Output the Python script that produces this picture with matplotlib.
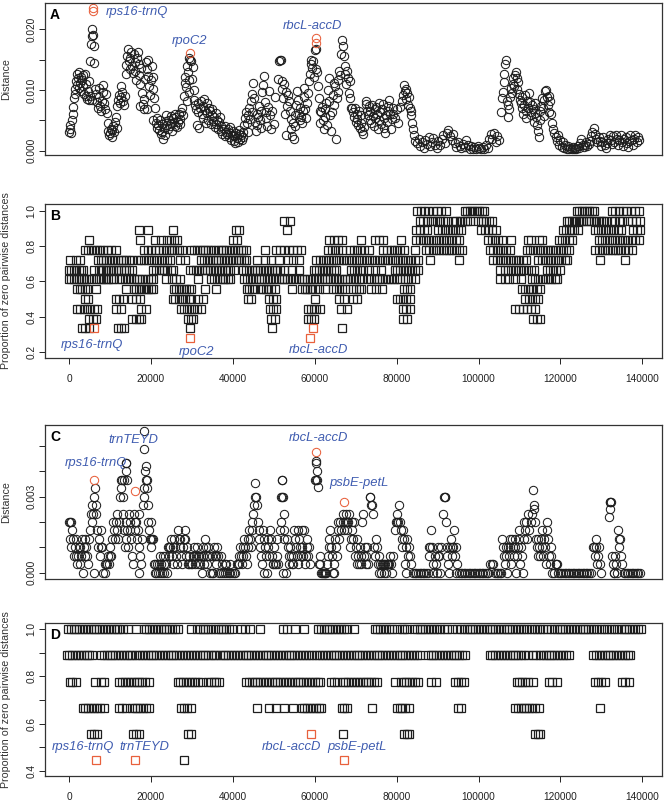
import matplotlib.pyplot as plt
from matplotlib.ticker import FixedLocator, FixedFormatter

plt.rcParams['font.family'] = ['Liberation Sans', 'DejaVu Sans']

# ---- panel A: distance per window, (position in kb, distance x 1e-3)
dist_a = [
    (0.0, 3.0), (0.2, 3.5), (0.3, 4.3), (0.5, 2.9), (0.7, 5.0), (0.9, 6.0), (1.0, 7.2), (1.2, 8.6),
    (1.4, 9.3), (1.5, 10.2), (1.7, 11.5), (1.9, 12.6), (2.0, 10.8), (2.2, 11.9), (2.4, 12.9), (2.5, 10.4),
    (2.7, 11.2), (2.9, 12.2), (3.0, 9.8), (3.2, 11.7), (3.4, 12.4), (3.5, 10.6), (3.7, 9.4), (3.9, 12.7),
    (4.1, 11.0), (4.2, 9.0), (4.4, 8.5), (4.6, 9.9), (4.8, 11.4), (5.0, 8.3),
    (5.1, 14.8), (5.3, 17.5), (5.5, 18.9), (5.6, 20.1), (5.8, 19.0), (6.0, 17.2), (6.2, 14.4), (6.4, 10.2),
    (5.2, 9.0), (5.5, 8.4), (6.6, 9.3), (6.8, 8.0), (7.0, 7.1), (7.2, 8.8), (7.4, 10.4), (7.6, 7.4),
    (7.8, 6.6), (8.0, 8.1), (8.2, 9.6), (8.4, 10.8), (8.6, 7.8), (8.8, 6.9), (9.0, 9.4),
    (9.2, 6.2), (9.4, 4.6), (9.6, 3.2), (9.8, 2.5), (10.0, 2.9), (10.2, 3.6), (10.4, 2.3), (10.6, 3.4),
    (10.8, 4.0), (11.0, 3.0), (11.2, 4.8), (11.4, 5.5), (11.6, 3.8),
    (11.8, 7.3), (12.0, 8.4), (12.2, 9.2), (12.4, 7.9), (12.6, 8.8), (12.8, 10.6), (13.0, 9.6), (13.2, 8.1),
    (13.4, 7.5), (13.6, 9.0),
    (13.8, 12.6), (14.0, 14.1), (14.2, 15.6), (14.4, 16.8), (14.6, 14.8), (14.8, 13.4), (15.0, 15.2),
    (15.2, 16.2), (15.4, 14.0), (15.6, 12.8), (15.8, 15.9), (16.0, 14.6), (16.2, 13.2), (16.4, 11.7),
    (16.6, 15.3), (16.8, 16.3), (17.0, 14.2), (17.2, 12.4), (17.4, 10.9), (17.6, 13.6), (17.8, 9.5),
    (18.0, 7.7), (18.2, 6.8), (18.4, 8.5), (18.6, 11.8), (18.8, 14.6), (19.0, 13.5), (19.2, 15.0),
    (19.4, 12.3), (19.6, 10.6), (19.8, 9.2), (20.0, 11.6), (20.2, 13.9), (20.4, 12.2), (20.6, 10.1),
    (20.8, 8.7), (21.0, 7.0), (20.4, 5.0), (19.0, 6.9), (17.4, 7.3),
    (21.2, 4.6), (21.4, 3.8), (21.6, 5.4), (21.8, 4.2), (22.0, 3.4), (22.2, 5.0), (22.4, 2.7), (22.6, 4.4),
    (22.8, 3.1), (23.0, 2.0), (23.2, 3.8), (23.4, 2.6), (23.6, 4.9), (23.8, 5.8), (24.0, 4.3), (24.2, 3.5),
    (24.4, 5.1), (24.6, 4.0), (24.8, 5.7), (25.0, 4.6), (25.2, 3.2), (25.4, 5.3), (25.6, 4.8), (25.8, 6.1),
    (26.0, 4.1), (26.2, 5.5), (26.4, 3.9), (26.6, 4.7), (26.8, 6.0), (27.0, 5.2), (27.2, 4.4), (27.4, 6.4),
    (27.6, 7.1), (27.8, 5.9),
    (28.0, 9.0), (28.2, 11.2), (28.4, 12.2), (28.6, 10.5), (28.8, 14.0), (29.0, 12.9), (29.2, 11.6),
    (29.4, 15.3), (29.6, 15.0), (29.8, 14.7), (30.0, 11.8), (30.2, 13.8), (30.4, 10.0), (30.6, 8.4),
    (28.9, 8.2), (29.3, 9.6),
    (30.8, 7.6), (31.0, 6.9), (31.2, 4.2), (31.4, 7.9), (31.6, 6.4), (31.8, 3.8), (32.0, 7.1), (32.2, 8.2),
    (32.4, 6.0), (32.6, 7.4), (32.8, 5.4), (33.0, 8.5), (33.2, 6.7), (33.4, 4.6), (33.6, 7.8), (33.8, 6.2),
    (34.0, 5.0), (34.2, 7.0), (34.4, 6.5), (34.6, 4.4), (34.8, 5.8), (35.0, 6.9), (35.2, 4.9), (35.4, 5.5),
    (35.6, 3.9), (35.8, 6.2), (36.0, 4.4), (36.2, 5.1), (36.4, 3.6), (36.6, 4.7), (36.8, 5.6), (37.0, 3.3),
    (37.2, 4.1), (37.4, 2.8),
    (37.8, 3.6), (38.0, 2.4), (38.2, 4.0), (38.4, 3.1), (38.6, 2.7), (38.8, 3.5), (39.0, 2.2), (39.2, 3.9),
    (39.4, 2.9), (39.6, 1.8), (39.8, 2.6), (40.0, 3.3), (40.2, 1.6), (40.4, 2.4), (40.6, 1.2), (40.8, 2.9),
    (41.0, 2.1), (41.2, 1.5), (41.4, 2.8), (41.6, 3.4), (41.8, 2.0), (42.0, 2.6), (42.2, 1.7), (42.4, 3.0),
    (42.6, 2.3), (42.8, 4.2),
    (43.0, 5.3), (43.2, 6.4), (43.4, 4.6), (43.6, 3.0), (43.8, 5.8), (44.0, 7.0), (44.2, 5.2), (44.4, 8.1),
    (44.6, 6.3), (44.8, 9.4), (45.0, 11.2), (45.2, 8.6), (45.4, 4.8), (45.6, 3.2), (45.8, 6.1), (46.0, 4.2),
    (46.2, 5.6), (46.4, 7.4), (46.6, 5.0), (46.8, 3.8), (47.0, 6.6), (47.2, 9.6), (47.4, 10.8), (47.6, 12.3),
    (47.8, 8.0), (48.0, 6.4), (48.2, 5.4), (48.4, 4.0), (48.6, 7.2), (48.8, 9.8), (49.0, 5.8), (49.2, 3.5),
    (51.0, 11.8), (51.3, 14.8), (51.5, 15.0), (51.7, 14.9), (51.9, 11.5), (52.1, 10.2), (52.3, 8.6),
    (52.5, 11.0), (52.7, 6.0), (52.9, 2.6), (53.1, 9.7), (53.3, 7.3), (49.6, 6.6), (50.0, 4.4), (50.4, 8.8),
    (53.5, 9.1), (53.7, 8.2), (53.9, 6.5), (54.1, 5.2), (54.3, 3.5), (54.5, 2.4), (54.7, 4.5), (54.9, 2.0),
    (55.1, 4.0), (55.3, 5.8), (55.5, 7.6), (55.7, 9.8), (55.9, 8.4), (56.1, 6.1), (56.3, 5.0), (56.5, 7.0),
    (56.7, 5.6), (56.9, 4.6), (57.1, 6.6), (57.3, 8.8), (57.5, 10.4), (57.7, 6.9), (57.9, 5.4), (58.1, 7.8),
    (58.3, 9.5),
    (58.6, 11.5), (58.8, 12.6), (59.0, 14.2), (59.2, 15.0), (59.4, 13.6), (59.6, 14.7), (59.8, 12.1),
    (60.0, 16.6), (60.2, 16.8), (60.4, 13.4), (60.6, 13.0), (60.8, 10.6), (61.0, 8.6), (61.2, 6.6), (61.4, 4.5),
    (61.6, 6.3), (61.8, 7.2), (62.0, 5.0), (62.2, 3.6), (62.4, 6.8), (62.6, 5.5), (62.8, 7.9), (63.0, 4.3),
    (63.2, 10.0), (63.4, 12.0), (63.6, 8.2), (63.8, 5.8), (64.0, 3.2), (64.2, 6.4), (64.4, 9.2), (64.6, 11.2),
    (64.8, 7.6), (65.0, 10.6), (65.2, 2.0), (65.4, 8.6), (65.6, 11.6), (65.8, 9.6), (66.0, 13.2), (66.2, 12.4),
    (66.5, 16.0), (66.7, 18.2), (66.9, 17.2), (67.1, 15.6), (67.3, 14.0), (67.5, 12.6), (67.7, 11.0),
    (67.9, 13.2), (68.1, 12.0), (68.3, 9.5), (68.5, 11.4), (68.7, 8.6), (68.9, 7.0),
    (69.2, 7.1), (69.4, 6.3), (69.6, 5.5), (69.8, 7.0), (70.0, 4.8), (70.2, 6.1), (70.4, 5.2), (70.6, 4.3),
    (70.8, 6.6), (71.0, 3.8), (71.2, 5.8), (71.4, 4.6), (71.6, 3.3), (71.8, 2.7), (72.0, 3.9), (72.4, 7.7),
    (72.6, 8.1), (72.8, 6.6), (73.0, 5.9), (73.2, 7.4), (73.4, 5.1), (73.6, 6.5), (73.8, 4.5), (74.0, 7.6),
    (74.2, 5.7), (74.4, 4.0), (74.6, 6.9), (74.8, 5.3), (75.0, 7.2), (75.2, 6.0), (75.4, 3.6), (75.6, 5.0),
    (75.8, 7.9), (76.0, 6.3), (76.2, 4.4), (76.4, 6.8), (76.6, 7.7), (76.8, 5.4), (77.0, 3.8), (77.2, 2.9),
    (77.4, 5.9), (77.6, 4.8), (77.8, 6.5), (78.0, 7.4), (78.2, 8.3), (78.4, 6.1), (78.6, 3.6), (78.8, 5.2),
    (79.0, 7.0), (79.2, 6.0), (79.6, 5.4), (80.0, 6.8), (80.4, 4.6), (80.8, 7.2),
    (81.4, 8.1), (81.6, 9.2), (81.8, 10.8), (82.0, 9.8), (82.2, 10.1), (82.4, 8.5), (82.6, 9.5), (82.8, 7.6),
    (83.0, 8.8), (83.2, 7.0), (83.4, 5.8), (83.6, 6.6), (83.8, 4.6), (84.0, 3.6), (84.2, 2.6), (84.4, 1.6),
    (85.0, 1.2), (85.4, 2.0), (85.8, 0.8), (86.2, 1.5), (86.6, 0.5), (87.0, 1.8), (87.4, 1.1), (87.8, 2.2),
    (88.2, 0.7), (88.6, 1.4), (89.0, 2.1), (89.4, 1.0), (89.8, 0.4), (90.2, 1.6), (90.6, 0.9), (91.0, 1.9),
    (91.4, 2.6), (91.8, 1.3), (92.2, 2.9), (92.6, 3.4), (93.0, 2.4), (93.4, 1.7), (93.8, 2.8), (94.2, 1.2),
    (94.6, 0.6), (95.0, 1.5), (95.4, 0.8), (95.8, 0.4), (96.2, 1.1), (96.6, 0.6), (97.0, 1.8), (97.4, 0.9),
    (97.8, 0.3), (98.2, 0.7), (98.6, 0.2), (99.0, 0.6), (99.4, 0.3), (99.8, 0.8), (100.2, 0.4), (100.6, 0.2),
    (101.0, 0.6), (101.4, 0.3), (101.8, 1.0), (102.2, 0.5), (102.6, 1.9), (103.0, 2.7), (103.4, 2.0),
    (103.8, 2.9), (104.2, 1.4), (104.6, 2.4), (105.0, 1.7),
    (105.5, 6.4), (105.7, 8.6), (105.9, 9.6), (106.1, 11.3), (106.3, 12.6), (106.5, 14.3), (106.7, 14.9),
    (106.9, 8.2), (107.1, 7.6),
    (107.3, 5.5), (107.5, 6.8), (107.7, 8.9), (107.9, 10.3), (108.1, 9.5), (108.3, 11.0), (108.5, 11.9),
    (108.7, 10.7), (108.9, 12.4), (109.1, 13.0), (109.3, 12.0), (109.5, 10.2), (109.7, 11.3), (109.9, 9.4),
    (110.1, 8.4),
    (110.3, 7.9), (110.5, 7.0), (110.7, 8.8), (110.9, 6.1), (111.1, 7.5), (111.3, 9.1), (111.5, 6.6),
    (111.7, 5.4), (111.9, 8.2), (112.1, 7.1), (112.3, 9.5), (112.5, 8.0), (112.7, 6.4), (112.9, 5.8),
    (113.1, 7.6), (113.3, 6.8), (113.5, 4.8), (113.7, 6.2), (113.9, 7.9), (114.1, 5.5), (114.3, 4.3),
    (114.5, 3.2), (114.7, 2.3), (114.9, 5.0), (115.1, 6.6), (115.3, 7.4), (115.5, 8.6), (115.7, 7.0),
    (115.9, 5.7), (116.1, 8.3), (116.3, 9.8), (116.5, 10.0), (116.7, 8.9), (116.9, 7.6), (117.1, 6.3),
    (117.3, 9.0), (117.5, 8.2), (117.7, 6.0), (117.9, 4.5),
    (118.2, 3.6), (118.5, 2.9), (118.8, 2.2), (119.1, 1.6), (119.4, 2.6), (119.7, 1.0), (120.0, 1.8),
    (120.3, 0.6), (120.6, 1.4), (120.9, 0.4), (121.2, 0.9), (121.5, 0.3), (121.8, 0.7), (122.1, 0.2),
    (122.4, 0.5), (122.7, 0.3), (123.0, 0.6), (123.3, 0.2), (123.6, 0.5), (123.9, 0.3), (124.2, 0.8),
    (124.5, 0.4), (124.8, 1.2), (125.1, 1.9), (125.4, 1.0), (125.7, 0.6), (126.0, 0.9), (126.3, 1.5),
    (126.6, 0.7), (126.9, 1.1), (127.2, 1.6), (127.5, 2.4), (127.8, 3.0), (128.1, 3.8), (128.4, 2.7),
    (128.7, 2.0), (129.0, 1.4), (129.3, 2.3), (129.6, 1.6), (129.9, 0.8), (130.2, 1.5), (130.5, 2.2),
    (130.8, 1.0), (131.1, 0.4), (131.4, 1.3), (131.7, 2.0), (132.0, 2.6), (132.3, 1.8), (132.6, 1.1),
    (132.9, 2.4), (133.2, 1.5), (133.5, 2.6), (133.8, 1.9), (134.1, 0.9), (134.4, 1.7), (134.7, 2.5),
    (135.0, 1.4), (135.3, 0.8), (135.6, 1.9), (135.9, 2.3), (136.2, 1.3), (136.5, 0.6), (136.8, 1.6),
    (137.1, 2.5), (137.4, 1.8), (137.7, 1.0), (138.0, 2.0), (138.3, 2.6), (138.6, 1.5), (138.9, 2.2),
    (139.2, 1.7),
]
red_a = [(5.9, 23.0), (5.9, 23.5), (29.6, 16.1), (60.4, 17.8), (60.4, 18.5)]

# ---- panel B: proportion of zero pairwise distances, k/18, positions in kb
b_18 = [85.0, 85.9, 86.8, 87.6, 88.9, 89.8, 90.9, 92.0, 96.6, 97.2, 97.8, 98.4, 99.0, 99.6, 100.2,
        100.8, 101.3, 124.0, 124.6, 125.2, 125.8, 126.4, 127.0, 127.6, 128.1, 132.5, 133.4, 134.3,
        135.2, 136.1, 137.3, 138.3, 139.3]
b_17 = [52.6, 53.9, 85.6, 86.5, 87.4, 88.3, 89.0, 89.8, 90.6, 91.4, 92.3, 93.8, 94.6, 95.4, 96.0,
        96.6, 97.2, 97.8, 99.9, 100.6, 101.2, 101.8, 102.6, 103.4, 121.5, 122.1, 122.7, 123.3, 123.9,
        124.5, 125.1, 125.6, 126.3, 126.9, 127.5, 128.1, 128.7, 129.3, 129.9, 130.5, 131.2, 132.5,
        133.4, 134.2, 135.0, 136.5, 137.5, 138.5, 139.4]
b_16 = [17.2, 19.2, 25.5, 40.7, 41.4, 53.2, 84.8, 85.7, 86.6, 87.4, 90.2, 91.0, 91.8, 92.6, 93.4,
        94.2, 95.0, 95.6, 100.7, 101.5, 102.3, 103.2, 104.2, 120.6, 121.3, 122.0, 122.7, 123.4, 124.2,
        128.4, 129.2, 130.0, 130.8, 131.6, 132.4, 133.2, 134.0, 134.9, 137.8, 138.6, 139.4]
b_15 = [5.0, 17.4, 21.0, 22.5, 24.0, 25.0, 25.7, 26.4, 40.0, 41.1, 63.6, 64.6, 65.6, 66.6, 71.2,
        74.8, 75.6, 76.6, 81.0, 84.8, 85.6, 86.4, 87.2, 88.0, 88.8, 89.6, 90.4, 91.2, 92.0, 92.8, 93.6,
        94.4, 95.3, 102.4, 103.2, 104.0, 104.8, 105.7, 107.9, 112.0, 112.8, 114.8, 115.6, 119.6, 120.4,
        121.2, 122.0, 122.8, 129.4, 130.2, 131.0, 131.8, 132.6, 133.4, 134.2, 135.0, 135.8, 136.6,
        137.4, 138.2, 139.2]
b_14 = [4.0, 4.7, 5.4, 6.1, 6.8, 7.5, 8.3, 9.2, 10.2, 11.4, 18.4, 19.2, 20.0, 21.0, 22.0, 23.0,
        23.8, 24.5, 25.1, 25.7, 26.3, 26.9, 27.5, 29.8, 30.5, 31.2, 31.9, 32.6, 33.3, 34.0, 34.7, 35.3,
        36.3, 37.0, 37.7, 38.4, 39.1, 39.8, 40.5, 41.2, 41.9, 42.6, 43.3, 47.9, 50.6, 51.6, 52.6, 53.6,
        54.6, 55.6, 56.7, 63.3, 64.1, 64.9, 65.7, 66.6, 68.6, 69.6, 70.3, 71.0, 72.0, 73.2, 76.6, 77.6,
        78.6, 79.4, 80.1, 80.8, 81.7, 84.6, 87.2, 88.0, 88.8, 89.6, 90.4, 91.2, 92.0, 92.8, 93.6, 94.4,
        95.2, 96.0, 102.8, 103.6, 104.4, 105.2, 106.0, 106.8, 107.6, 111.8, 112.6, 113.4, 114.2, 115.0,
        115.8, 116.6, 117.4, 118.2, 119.0, 119.8, 120.6, 121.4, 122.0, 128.5, 129.3, 130.1, 130.9,
        131.7, 132.5, 133.3, 134.1, 134.9, 135.7, 136.5, 137.4]
b_13 = [0.3, 1.6, 2.8, 7.0, 7.7, 8.4, 9.1, 9.8, 10.5, 11.2, 11.9, 12.6, 13.3, 14.0, 14.7, 15.4,
        16.8, 17.6, 18.4, 19.2, 20.0, 20.8, 21.6, 22.4, 23.2, 24.0, 24.6, 27.0, 28.4, 32.3, 33.0, 33.7,
        34.4, 35.1, 35.8, 36.5, 37.2, 37.9, 38.6, 39.3, 40.0, 40.7, 41.4, 42.1, 42.8, 43.3, 45.8, 47.9,
        49.4, 51.2, 53.5, 54.8, 56.2, 60.4, 61.2, 62.0, 62.8, 63.6, 64.4, 65.2, 66.0, 66.8, 67.6, 68.4,
        69.2, 70.0, 70.8, 71.6, 72.4, 73.2, 74.0, 74.8, 75.6, 76.4, 77.2, 78.0, 78.8, 79.6, 80.4, 81.2,
        82.0, 82.8, 83.6, 84.4, 85.2, 88.2, 95.2, 103.6, 104.4, 105.2, 106.0, 106.8, 107.6, 108.4,
        109.2, 110.0, 110.8, 111.6, 114.6, 115.4, 116.2, 117.0, 117.8, 118.6, 119.4, 120.2, 121.0,
        121.6, 129.6, 135.8]
b_12 = [0.0, 0.6, 1.2, 1.8, 2.4, 3.0, 3.5, 6.2, 7.2, 7.8, 8.4, 9.0, 9.6, 10.2, 10.8, 11.4, 12.0,
        12.8, 13.4, 14.0, 14.6, 15.3, 20.5, 21.2, 21.9, 22.6, 23.3, 24.0, 24.8, 25.5, 29.6, 30.3, 31.0,
        31.7, 32.4, 33.1, 33.8, 34.5, 35.2, 35.9, 36.6, 37.3, 38.0, 38.7, 39.4, 40.2, 42.5, 43.2, 43.9,
        44.6, 45.3, 46.0, 46.7, 47.4, 48.1, 48.8, 49.5, 50.2, 50.9, 51.6, 52.4, 54.5, 56.2, 59.7, 60.4,
        61.1, 61.8, 62.5, 63.2, 63.9, 64.6, 65.3, 68.9, 69.6, 70.3, 71.0, 71.8, 73.2, 74.6, 76.2, 79.5,
        80.2, 80.9, 81.6, 82.3, 83.0, 83.7, 84.4, 85.2, 105.2, 106.4, 107.2, 108.0, 108.8, 109.6, 110.4,
        111.2, 112.0, 112.8, 113.6, 116.6, 117.4, 118.2, 119.0, 119.8]
b_11 = [0.0, 0.6, 1.2, 1.8, 2.4, 3.0, 3.6, 4.2, 4.8, 5.4, 6.6, 7.2, 7.8, 8.4, 9.0, 9.6, 10.2, 10.8,
        12.3, 13.0, 13.7, 14.4, 15.1, 15.8, 16.5, 17.2, 17.9, 18.6, 19.3, 20.0, 20.6, 23.7, 25.1, 26.2,
        27.0, 31.4, 34.7, 35.4, 36.1, 36.8, 37.5, 38.2, 38.9, 39.4, 42.8, 43.5, 44.2, 44.9, 45.6, 46.3,
        47.0, 47.7, 48.4, 49.1, 49.8, 50.5, 51.2, 51.9, 52.6, 53.3, 54.0, 54.7, 55.4, 56.1, 56.8, 57.5,
        58.2, 58.9, 59.6, 60.3, 61.0, 61.7, 62.4, 63.1, 63.8, 64.5, 65.2, 65.9, 66.6, 67.3, 68.0, 68.7,
        69.4, 70.1, 70.8, 71.5, 73.0, 73.7, 74.4, 75.1, 75.8, 76.5, 77.2, 77.9, 78.6, 79.3, 80.0, 80.7,
        82.0, 82.8, 83.6, 84.6, 105.3, 106.4, 107.5, 109.0, 110.4, 113.0, 113.8, 114.6, 115.4, 116.2,
        117.0, 117.8, 118.6, 119.1]
b_10 = [2.0, 2.6, 3.2, 3.8, 4.5, 6.5, 14.0, 15.8, 16.4, 17.0, 17.6, 18.2, 18.8, 19.4, 20.0, 20.6,
        25.6, 26.2, 26.8, 27.4, 28.0, 28.6, 29.2, 29.8, 33.3, 35.8, 43.4, 44.0, 44.6, 45.2, 46.8, 47.4,
        48.0, 48.6, 49.2, 50.4, 54.4, 57.0, 57.6, 58.2, 58.8, 59.4, 60.0, 61.0, 62.4, 64.5, 65.2, 66.0,
        66.6, 67.4, 69.4, 70.0, 70.8, 71.4, 73.8, 75.0, 76.4, 81.8, 82.6, 83.2, 110.6, 111.3, 112.0,
        112.7, 113.4, 114.2, 115.0]
b_9 = [3.8, 4.6, 11.5, 12.3, 13.3, 15.5, 16.3, 17.3, 25.3, 26.0, 26.8, 27.6, 28.4, 29.2, 29.9, 31.6,
       32.6, 43.6, 44.5, 48.9, 49.8, 50.6, 60.1, 66.0, 67.2, 69.3, 70.4, 80.0, 80.8, 81.6, 82.4, 83.2,
       111.4, 112.2, 113.0, 113.8, 114.5]
b_8 = [2.0, 2.8, 3.6, 4.4, 5.2, 6.0, 6.8, 11.4, 12.6, 17.6, 18.8, 27.3, 28.1, 28.9, 29.7, 30.5, 31.3,
       32.2, 49.0, 49.8, 50.6, 58.3, 59.0, 59.7, 60.4, 61.2, 66.5, 67.8, 81.5, 82.4, 83.2, 108.8, 109.8,
       110.8, 111.8, 112.8, 113.8]
b_7 = [5.0, 5.8, 6.6, 15.5, 16.3, 17.0, 17.6, 29.0, 29.8, 30.3, 49.4, 50.2, 58.3, 59.0, 59.8, 81.5,
       82.6, 113.4, 114.2, 114.9]
b_6 = [3.2, 4.0, 4.9, 12.0, 12.8, 13.5, 29.6, 49.6, 66.6]
red_b = [(6.2, 6), (29.6, 5), (59.5, 6), (58.9, 5)]

# ---- panel C: distance per window, (position in kb, distance x 1e-3)
dist_c = [
    (0.0, 2.0), (0.2, 2.0), (0.4, 2.0), (0.3, 1.33), (0.5, 1.0), (0.8, 1.67), (1.0, 1.33), (1.2, 0.67),
    (1.4, 1.0), (1.6, 0.67), (1.8, 1.33), (2.0, 0.33), (2.2, 0.67), (2.4, 1.0), (2.6, 0.33), (2.8, 1.0),
    (3.0, 0.67), (3.2, 1.33), (3.4, 0.0), (3.6, 1.0), (3.8, 0.67), (4.0, 1.33), (4.2, 1.0), (4.4, 0.67),
    (4.6, 0.33), (4.9, 1.33), (5.1, 1.67), (5.3, 2.33), (5.5, 2.67), (5.7, 2.0), (5.9, 2.33), (6.1, 3.0),
    (6.3, 3.33), (6.5, 2.67), (6.7, 2.33), (6.9, 1.67), (7.1, 1.0), (6.0, 0.0), (7.3, 1.33), (7.5, 0.67),
    (7.7, 1.0), (7.9, 1.67), (8.1, 1.0), (8.3, 0.0), (8.7, 0.0), (8.9, 0.33), (9.1, 0.33), (9.3, 0.33),
    (9.5, 0.67), (9.7, 0.33), (9.9, 0.67), (10.1, 1.0), (10.3, 0.67), (10.6, 1.33), (10.8, 2.0),
    (11.0, 1.67), (11.2, 1.33), (11.4, 2.0), (11.6, 1.67), (11.8, 2.33), (12.0, 1.33), (12.2, 2.0),
    (12.4, 3.0), (12.6, 3.67), (12.8, 3.33), (13.0, 3.67), (13.3, 3.0), (13.5, 3.67), (13.8, 4.0),
    (13.9, 4.33), (14.0, 4.33), (14.2, 3.67), (13.2, 2.33), (13.4, 1.67), (13.6, 1.0), (13.8, 1.33),
    (14.0, 2.0), (14.2, 1.67), (14.4, 1.0), (14.6, 2.33), (14.8, 2.0), (15.0, 1.67), (15.2, 1.33),
    (15.4, 0.67), (15.6, 0.33), (15.8, 2.33), (16.0, 2.0), (16.2, 1.67), (16.4, 2.0), (16.6, 1.33),
    (16.8, 1.67), (17.0, 2.33), (17.2, 1.0), (17.4, 0.67), (17.6, 0.33), (17.2, 0.0), (17.8, 1.33),
    (18.0, 2.67), (18.2, 3.0), (18.3, 3.33), (18.3, 5.6), (18.4, 4.9), (18.6, 4.0), (18.8, 4.2),
    (18.9, 3.67), (19.0, 3.33), (19.1, 3.67), (19.2, 2.67), (19.3, 2.0), (19.5, 1.67), (19.7, 1.33),
    (19.9, 1.0), (20.1, 1.33), (20.3, 1.33), (20.5, 1.33), (19.9, 2.0), (20.7, 0.33), (20.9, 0.33),
    (21.1, 0.0), (21.3, 0.0), (21.5, 0.33), (21.7, 0.0), (21.9, 0.33), (22.1, 0.0), (22.3, 0.67),
    (22.5, 0.33), (22.7, 0.0), (22.9, 0.67), (23.1, 0.33), (23.3, 0.0), (23.5, 0.67), (23.7, 0.33),
    (23.9, 0.0), (24.1, 1.0), (24.3, 1.0), (24.5, 0.67), (24.7, 1.0), (24.9, 1.33), (25.1, 0.67),
    (25.3, 1.0), (25.5, 0.33), (25.7, 1.33), (25.9, 1.0), (26.1, 0.67), (26.3, 0.33), (26.6, 1.67),
    (26.8, 1.33), (27.0, 1.0), (27.2, 1.33), (27.4, 0.67), (27.6, 0.33), (27.8, 1.0), (28.0, 1.33),
    (28.2, 1.67), (28.4, 1.33), (28.6, 0.67), (28.8, 1.0), (29.0, 0.33), (29.2, 0.67), (29.4, 0.33),
    (29.8, 0.33), (30.0, 0.33), (30.2, 0.67), (30.4, 1.0), (30.6, 0.67), (30.8, 0.33), (31.0, 0.67),
    (31.2, 1.0), (31.4, 0.67), (31.6, 0.33), (31.8, 0.67), (32.0, 0.33), (32.2, 0.67), (32.4, 0.0),
    (32.6, 1.0), (32.8, 0.67), (33.0, 0.33), (33.2, 1.33), (33.4, 1.0), (33.6, 0.67), (33.8, 0.33),
    (34.0, 1.0), (34.2, 0.67), (34.4, 0.0), (34.8, 0.0), (35.2, 0.0), (35.0, 0.67), (35.4, 1.0),
    (35.6, 0.67), (35.8, 0.33), (36.0, 0.67), (36.2, 1.0), (36.4, 0.67), (36.6, 0.0), (37.0, 0.0),
    (37.2, 0.67), (37.4, 0.33), (37.6, 0.0), (38.0, 0.0), (38.2, 0.33), (38.4, 0.33), (38.6, 0.0),
    (39.0, 0.0), (39.2, 0.33), (39.4, 0.0), (39.8, 0.0), (40.2, 0.0), (40.6, 0.0), (41.0, 0.33),
    (41.2, 0.33), (41.4, 0.67), (41.6, 0.33), (41.8, 1.0), (42.0, 0.67), (42.2, 0.33), (42.4, 1.0),
    (42.6, 0.67), (42.8, 1.33), (43.0, 1.0), (43.2, 0.67), (43.4, 0.33), (43.6, 1.0), (43.8, 1.33),
    (44.0, 1.67), (44.2, 1.33), (44.4, 1.0), (44.6, 1.67), (44.8, 2.0), (45.0, 2.33), (45.2, 2.67),
    (45.4, 3.0), (45.5, 3.55), (45.7, 3.0), (45.9, 2.67), (46.1, 2.0), (46.3, 1.67), (46.5, 1.33),
    (46.7, 1.0), (46.9, 0.67), (47.1, 0.33), (47.3, 1.67), (47.5, 1.33), (47.7, 0.0), (47.9, 1.0),
    (48.1, 0.67), (48.3, 0.0), (48.5, 1.33), (48.7, 1.0), (48.9, 0.67), (49.1, 1.67), (49.3, 1.33),
    (49.5, 0.67), (49.7, 0.33), (49.9, 0.33), (50.1, 1.0), (50.3, 0.33), (50.5, 0.33), (50.7, 1.33),
    (50.9, 0.67), (51.1, 0.33), (51.6, 1.67), (51.7, 2.0), (51.8, 3.0), (51.9, 3.67), (52.0, 3.67),
    (52.1, 3.0), (52.3, 3.0), (52.4, 2.33), (52.5, 1.67), (52.6, 1.33), (52.2, 0.0), (53.0, 0.0),
    (53.2, 1.33), (53.4, 1.0), (53.6, 0.67), (53.8, 0.33), (54.0, 1.0), (54.2, 0.67), (54.4, 0.33),
    (54.6, 0.33), (54.8, 0.67), (55.0, 1.67), (55.2, 1.33), (55.4, 1.0), (55.6, 0.67), (55.8, 0.33),
    (56.0, 1.67), (56.2, 1.33), (56.4, 1.0), (56.6, 0.67), (56.8, 1.67), (57.0, 1.0), (57.2, 0.67),
    (57.4, 1.67), (57.6, 0.33), (57.8, 0.67), (58.0, 1.0), (58.2, 1.33), (58.4, 0.67), (58.6, 1.0),
    (58.8, 0.33), (60.0, 3.67), (60.3, 4.33), (60.4, 4.4), (60.5, 4.0), (60.6, 3.67), (60.8, 3.4),
    (60.4, 3.67), (61.0, 0.33), (61.2, 0.33), (61.4, 0.67), (61.6, 0.0), (61.8, 0.0), (62.0, 0.0),
    (62.2, 0.0), (62.4, 0.0), (62.6, 0.0), (62.8, 0.0), (63.0, 0.33), (63.2, 0.67), (63.4, 1.0),
    (63.6, 1.33), (63.8, 1.67), (64.0, 1.0), (64.2, 0.67), (64.4, 0.0), (64.6, 0.0), (64.8, 0.33),
    (65.0, 1.33), (65.2, 1.0), (65.4, 0.67), (65.6, 1.67), (65.8, 2.0), (66.0, 1.33), (66.2, 2.0),
    (66.4, 1.67), (66.8, 2.33), (67.0, 2.0), (67.2, 1.67), (67.4, 2.0), (67.6, 2.33), (67.8, 2.0),
    (68.0, 1.67), (68.2, 2.0), (68.4, 2.33), (68.6, 1.0), (68.8, 1.33), (69.0, 2.0), (69.2, 1.67),
    (69.4, 1.33), (69.6, 2.0), (69.8, 0.67), (70.0, 1.0), (70.2, 1.33), (70.4, 0.33), (70.6, 0.67),
    (70.8, 0.33), (71.0, 1.0), (71.2, 0.67), (71.4, 0.33), (71.6, 2.0), (71.8, 2.33), (72.0, 0.67),
    (72.2, 1.0), (72.4, 0.33), (72.6, 0.67), (72.8, 1.0), (73.0, 0.33), (73.4, 3.0), (73.6, 3.0),
    (73.8, 2.67), (74.0, 2.67), (74.2, 2.33), (74.4, 1.0), (74.6, 0.67), (75.0, 1.33), (75.2, 1.0),
    (75.4, 0.33), (75.6, 0.67), (75.8, 0.0), (76.0, 0.33), (76.2, 0.0), (76.4, 0.33), (76.6, 0.33),
    (76.8, 0.0), (77.0, 0.33), (77.2, 0.33), (77.4, 0.0), (77.6, 0.33), (77.8, 0.33), (78.0, 0.33),
    (78.2, 0.33), (78.4, 0.67), (78.6, 0.33), (78.8, 0.0), (79.0, 0.67), (79.6, 1.67), (79.8, 2.0),
    (80.0, 2.33), (80.2, 2.0), (80.4, 2.0), (80.6, 2.67), (80.8, 2.0), (81.0, 1.67), (81.2, 1.33),
    (81.4, 1.0), (81.6, 1.67), (81.8, 1.33), (82.0, 0.33), (82.2, 0.0), (82.4, 1.0), (82.6, 1.33),
    (82.8, 0.67), (83.0, 1.0), (83.2, 0.67), (83.4, 0.33), (84.0, 0.0), (84.4, 0.0), (84.8, 0.0),
    (85.2, 0.0), (85.6, 0.0), (86.0, 0.0), (86.4, 0.0), (86.8, 0.0), (87.2, 0.0), (87.6, 0.0),
    (87.8, 0.67), (88.0, 1.0), (88.2, 1.0), (88.4, 1.67), (88.6, 1.0), (88.8, 0.33), (89.0, 0.0),
    (89.4, 0.67), (89.6, 0.33), (89.8, 0.0), (90.0, 0.67), (90.2, 1.0), (90.4, 0.67), (90.6, 0.0),
    (90.8, 1.0), (91.4, 2.33), (91.6, 3.0), (91.7, 3.0), (91.8, 3.0), (92.0, 2.0), (92.2, 0.67),
    (92.4, 1.0), (92.6, 0.33), (92.8, 0.0), (93.0, 1.0), (93.2, 1.33), (93.4, 1.0), (93.6, 0.67),
    (93.8, 1.0), (94.0, 1.67), (94.2, 0.67), (94.4, 1.0), (94.6, 0.0), (94.8, 0.33), (95.2, 0.0),
    (95.6, 0.0), (96.0, 0.0), (96.4, 0.0), (96.8, 0.0), (97.2, 0.0), (97.6, 0.0), (98.0, 0.0),
    (98.4, 0.0), (98.8, 0.0), (99.2, 0.0), (99.6, 0.0), (100.0, 0.0), (100.4, 0.0), (100.8, 0.0),
    (101.2, 0.0), (101.6, 0.0), (102.0, 0.0), (102.4, 0.0), (102.8, 0.33), (103.2, 0.33), (103.6, 0.33),
    (104.0, 0.0), (104.4, 0.0), (104.8, 0.0), (105.2, 0.0), (105.6, 0.0), (105.8, 1.33), (106.0, 1.0),
    (106.2, 0.67), (106.4, 0.33), (106.6, 0.67), (106.8, 1.0), (107.0, 0.0), (107.2, 1.0), (107.4, 0.67),
    (107.6, 1.33), (107.8, 1.0), (108.0, 0.33), (108.2, 1.33), (108.4, 1.0), (108.6, 0.67), (108.8, 1.0),
    (109.0, 1.33), (109.2, 0.0), (109.4, 0.67), (109.6, 1.0), (109.8, 1.67), (110.0, 1.33), (110.2, 0.33),
    (110.4, 1.0), (110.6, 0.67), (110.8, 0.0), (111.0, 1.33), (111.2, 2.0), (111.4, 1.67), (111.6, 2.0),
    (111.8, 1.33), (112.0, 2.33), (112.4, 1.67), (112.7, 2.0), (113.0, 2.33), (113.3, 3.26),
    (113.5, 2.67), (113.6, 2.5), (113.8, 2.0), (114.0, 1.33), (114.2, 1.0), (114.4, 0.67), (114.6, 1.33),
    (114.8, 1.0), (115.0, 0.67), (115.2, 1.33), (115.4, 1.67), (115.6, 1.0), (115.8, 0.67), (116.0, 1.33),
    (116.2, 1.0), (116.4, 0.33), (116.6, 1.67), (116.8, 2.0), (117.0, 1.33), (117.2, 0.67), (117.4, 0.33),
    (117.6, 1.0), (117.8, 0.67), (118.0, 0.0), (118.4, 0.0), (118.8, 0.33), (119.0, 0.33), (119.2, 0.33),
    (119.4, 0.0), (119.8, 0.0), (120.2, 0.0), (120.6, 0.0), (121.0, 0.0), (121.4, 0.0), (121.8, 0.0),
    (122.2, 0.0), (122.6, 0.0), (123.0, 0.0), (123.4, 0.0), (123.8, 0.0), (124.2, 0.0), (124.6, 0.0),
    (125.0, 0.0), (125.4, 0.0), (125.8, 0.0), (126.2, 0.0), (126.6, 0.0), (127.0, 0.0), (127.4, 0.0),
    (128.0, 1.0), (128.2, 1.0), (128.4, 0.67), (128.6, 1.33), (128.8, 1.0), (129.0, 0.33), (129.2, 0.67),
    (129.4, 1.0), (129.6, 0.33), (129.8, 0.0), (131.8, 2.2), (132.0, 2.5), (132.1, 2.8), (132.2, 2.8),
    (132.4, 2.8), (132.6, 0.67), (132.8, 0.33), (133.0, 0.0), (133.2, 0.0), (133.4, 0.67), (133.6, 0.33),
    (133.8, 0.0), (134.0, 1.67), (134.2, 1.0), (134.4, 1.33), (134.6, 1.33), (134.8, 0.67), (135.0, 0.33),
    (135.4, 0.0), (135.8, 0.0), (136.2, 0.0), (136.6, 0.0), (137.0, 0.0), (137.4, 0.0), (137.8, 0.0),
    (138.2, 0.0), (138.6, 0.0), (139.0, 0.0), (139.4, 0.0),
]
red_c = [(6.2, 3.67), (16.0, 3.22), (60.4, 4.75), (67.2, 2.78)]

# ---- panel D: proportion of zero pairwise distances, k/9, positions in kb
d_9 = [-0.3, 0.4, 1.1, 1.8, 2.5, 3.2, 3.9, 4.6, 5.3, 6.0, 6.7, 7.4, 8.1, 8.8, 9.5, 10.2, 10.9, 11.6,
       12.3, 13.2, 14.5, 16.4, 18.2, 18.9, 19.6, 20.3, 21.0, 21.7, 22.4, 23.1, 23.8, 24.5, 25.2, 25.9,
       26.6, 29.9, 31.2, 31.9, 32.6, 33.3, 34.0, 34.7, 35.6, 36.3, 37.0, 37.7, 38.4, 39.1, 39.8, 41.9,
       43.0, 44.3, 46.6, 52.3, 53.2, 55.3, 57.5, 60.8, 61.5, 62.2, 62.9, 63.6, 64.3, 65.0, 65.7, 66.4,
       67.1, 67.8, 69.6, 74.6, 75.3, 76.0, 76.7, 77.4, 78.1, 78.8, 80.0, 81.2, 81.9, 82.6, 84.2, 84.9,
       85.6, 86.3, 87.0, 87.7, 88.4, 89.1, 89.8, 90.7, 91.6, 92.3, 93.5, 94.8, 95.7, 96.4, 97.1, 97.8,
       98.5, 99.2, 99.9, 100.6, 101.3, 102.0, 102.7, 103.4, 104.1, 104.8, 105.5, 106.2, 106.9, 107.5,
       108.2, 109.0, 109.7, 110.4, 111.1, 111.9, 112.7, 113.5, 114.3, 115.1, 115.8, 116.8, 117.7, 118.4,
       119.1, 119.8, 120.5, 121.2, 121.9, 122.6, 123.3, 124.0, 124.7, 125.4, 126.1, 126.8, 127.5, 128.2,
       128.9, 129.8, 130.6, 131.3, 132.3, 133.1, 133.9, 134.7, 135.4, 136.1, 136.8, 137.5, 138.2, 138.9,
       139.6]
d_8 = [-0.6, 0.1, 0.8, 1.5, 2.2, 2.9, 3.6, 4.3, 5.0, 5.7, 7.8, 8.5, 9.2, 9.9, 10.6, 11.3, 12.0, 12.7,
       13.4, 14.1, 14.8, 15.5, 16.3, 17.0, 17.8, 18.5, 19.2, 19.9, 20.6, 21.3, 22.0, 22.7, 23.4, 24.1,
       24.8, 25.5, 26.2, 26.9, 27.6, 28.3, 29.0, 29.8, 30.5, 31.2, 31.9, 32.6, 33.3, 34.0, 34.7, 35.4,
       36.0, 36.8, 37.5, 38.2, 38.9, 39.6, 40.3, 41.0, 41.7, 42.4, 43.1, 43.8, 44.5, 45.2, 45.9, 46.6,
       47.3, 48.0, 48.7, 49.4, 50.1, 50.8, 51.5, 52.2, 52.9, 53.6, 54.3, 55.0, 55.7, 56.4, 57.1, 57.8,
       58.5, 59.3, 60.4, 61.1, 61.8, 62.5, 63.2, 63.9, 64.6, 65.3, 66.0, 66.7, 67.4, 68.1, 68.8, 69.5,
       70.2, 70.9, 71.6, 72.3, 73.0, 73.7, 74.4, 75.1, 75.8, 76.5, 77.2, 77.9, 78.6, 79.3, 80.0, 80.7,
       81.4, 82.1, 82.8, 83.5, 84.2, 84.9, 85.6, 87.6, 88.3, 89.0, 89.7, 90.4, 91.1, 91.8, 92.5, 93.2,
       93.9, 94.6, 95.3, 96.0, 96.6, 102.7, 103.4, 104.1, 104.8, 105.5, 106.2, 106.9, 107.6, 108.3,
       109.0, 109.7, 110.4, 111.1, 112.0, 113.2, 114.1, 115.0, 115.7, 116.4, 117.1, 117.8, 118.5, 119.2,
       120.0, 120.7, 121.4, 122.2, 128.0, 128.7, 129.4, 130.1, 130.8, 131.5, 132.2, 132.9, 133.6, 134.3,
       135.0, 135.7, 136.4, 137.1]
d_7 = [0.2, 0.8, 1.8, 6.3, 7.8, 8.6, 12.3, 13.0, 13.7, 14.4, 15.1, 15.8, 16.5, 17.2, 17.9, 18.6, 19.5,
       26.5, 27.2, 27.9, 28.6, 29.3, 30.0, 30.7, 31.4, 32.5, 33.9, 34.6, 35.3, 36.0, 36.6, 43.2, 43.9,
       44.6, 45.3, 46.0, 46.7, 47.4, 48.1, 48.8, 49.5, 50.2, 50.9, 51.6, 52.3, 53.0, 53.7, 54.4, 55.1,
       55.8, 56.5, 57.2, 57.9, 58.6, 59.3, 60.0, 60.7, 61.3, 64.0, 64.7, 65.5, 66.8, 67.5, 68.2, 68.9,
       69.6, 70.3, 71.0, 71.7, 72.4, 73.1, 73.8, 74.5, 75.3, 79.6, 81.0, 81.7, 82.4, 83.1, 83.8, 84.5,
       85.2, 88.5, 89.7, 94.3, 95.0, 95.7, 96.4, 109.3, 110.0, 110.7, 111.4, 112.1, 113.2, 117.1, 118.0,
       119.2, 128.5, 129.2, 129.9, 130.9, 135.0, 135.8, 136.7]
d_6 = [3.3, 4.0, 4.7, 5.4, 6.1, 6.8, 7.5, 8.6, 12.3, 13.0, 13.8, 15.3, 16.0, 16.7, 17.4, 18.1, 18.8,
       19.5, 27.4, 28.1, 28.8, 29.9, 45.9, 48.8, 50.6, 52.6, 54.6, 56.8, 57.5, 58.2, 58.9, 59.6, 60.3,
       61.0, 61.6, 66.6, 67.2, 67.9, 74.0, 80.0, 80.7, 81.4, 82.1, 83.0, 95.0, 95.8, 108.9, 109.6, 110.3,
       111.0, 111.7, 112.4, 113.1, 113.8, 114.7, 129.7]
d_5 = [5.4, 6.2, 6.9, 15.6, 16.3, 17.2, 29.0, 29.8, 66.9, 81.8, 82.6, 83.0, 113.8, 114.5, 115.0]
d_4 = [28.0]
red_d = [(6.5, 4), (16.1, 4), (59.1, 5), (67.1, 4)]

RED = '#e8603c'
BLUE = '#3f5cb0'
INK = '#1e1e1e'

fig = plt.figure(figsize=(6.66, 8.05), dpi=100)
left, width = 0.0676, 0.9264
ax_a = fig.add_axes([left, 0.8075, width, 0.1888])
ax_b = fig.add_axes([left, 0.5557, width, 0.1909])
ax_c = fig.add_axes([left, 0.2804, width, 0.1916])
ax_d = fig.add_axes([left, 0.0364, width, 0.1901])


def style_axes(ax, letter, yticks, ylabels, xticks_on, ylabel):
    ax.set_xlim(-5860, 144800)
    for s in ax.spines.values():
        s.set_color('#333333')
        s.set_linewidth(0.9)
    ax.yaxis.set_major_locator(FixedLocator(yticks))
    ax.yaxis.set_major_formatter(FixedFormatter(ylabels))
    ax.tick_params(axis='y', direction='out', length=4, width=0.7, pad=2,
                   labelsize=7.3, colors='#222222', labelrotation=90)
    for t in ax.get_yticklabels():
        t.set_va('center')
    if xticks_on:
        ax.set_xticks([0, 20000, 40000, 60000, 80000, 100000, 120000, 140000])
        ax.set_xticklabels(['0', '20000', '40000', '60000', '80000', '100000', '120000', '140000'])
        ax.tick_params(axis='x', direction='out', length=4, width=0.7, pad=8,
                       labelsize=7.3, colors='#222222')
    else:
        ax.tick_params(axis='x', bottom=False, labelbottom=False)
    ax.set_ylabel(ylabel, fontsize=7.7, color='#333333')
    ax.yaxis.set_label_coords(-0.055, 0.5)
    ax.text(0.008, 0.965, letter, transform=ax.transAxes, fontsize=10,
            fontweight='bold', ha='left', va='top', color='black')


def circles(ax, pts, scale, color):
    xs = [p[0] * 1000 for p in pts]
    ys = [p[1] * scale for p in pts]
    ax.plot(xs, ys, 'o', ms=6.0, mfc='none', mec=color, mew=0.75, ls='none')


def squares(ax, xs_kb, level, color):
    xs = [x * 1000 for x in xs_kb]
    ax.plot(xs, [level] * len(xs), 's', ms=5.3, mfc='none', mec=color, mew=0.9, ls='none')


def label(ax, x_kb, y, txt, ha='center'):
    ax.text(x_kb * 1000, y, txt, color=BLUE, fontsize=9.4, style='italic', ha=ha, va='center')


# panel A
circles(ax_a, dist_a, 1e-3, INK)
circles(ax_a, red_a, 1e-3, RED)
ax_a.set_ylim(-0.00071, 0.02433)
style_axes(ax_a, 'A', [0, 0.005, 0.010, 0.015, 0.020],
           ['0.000', '', '0.010', '', '0.020'], False, 'Distance')
label(ax_a, 9.0, 0.0228, 'rps16-trnQ', ha='left')
label(ax_a, 29.5, 0.0181, 'rpoC2')
label(ax_a, 59.4, 0.0205, 'rbcL-accD')

# panel B
b_rows = [(18, b_18), (17, b_17), (16, b_16), (15, b_15), (14, b_14), (13, b_13), (12, b_12),
          (11, b_11), (10, b_10), (9, b_9), (8, b_8), (7, b_7), (6, b_6)]
for k, xs in b_rows:
    squares(ax_b, xs, k / 18, INK)
for x, k in red_b:
    squares(ax_b, [x], k / 18, RED)
ax_b.set_ylim(0.168, 1.038)
style_axes(ax_b, 'B', [0.2, 0.4, 0.6, 0.8, 1.0], ['0.2', '0.4', '0.6', '0.8', '1.0'],
           True, 'Proportion of zero pairwise distances')
label(ax_b, 5.6, 0.24, 'rps16-trnQ')
label(ax_b, 31.2, 0.20, 'rpoC2')
label(ax_b, 60.9, 0.21, 'rbcL-accD')

# panel C
circles(ax_c, dist_c, 1e-3, INK)
circles(ax_c, red_c, 1e-3, RED)
ax_c.set_ylim(-0.00026, 0.005831)
style_axes(ax_c, 'C', [0, 0.001, 0.002, 0.003, 0.004, 0.005],
           ['0.000', '', '', '0.003', '', ''], False, 'Distance')
label(ax_c, 15.6, 0.00524, 'trnTEYD')
label(ax_c, 6.5, 0.00434, 'rps16-trnQ')
label(ax_c, 61.0, 0.0053, 'rbcL-accD')
label(ax_c, 70.9, 0.00355, 'psbE-petL')

# panel D
d_rows = [(9, d_9), (8, d_8), (7, d_7), (6, d_6), (5, d_5), (4, d_4)]
for k, xs in d_rows:
    squares(ax_d, xs, k / 9, INK)
for x, k in red_d:
    squares(ax_d, [x], k / 9, RED)
ax_d.set_ylim(0.379, 1.027)
style_axes(ax_d, 'D', [0.4, 0.5, 0.6, 0.7, 0.8, 0.9, 1.0],
           ['0.4', '', '0.6', '', '0.8', '', '1.0'], True,
           'Proportion of zero pairwise distances')
label(ax_d, 3.5, 0.50, 'rps16-trnQ')
label(ax_d, 18.3, 0.50, 'trnTEYD')
label(ax_d, 54.2, 0.50, 'rbcL-accD')
label(ax_d, 70.4, 0.50, 'psbE-petL')

fig.savefig('out.png', dpi=100)
